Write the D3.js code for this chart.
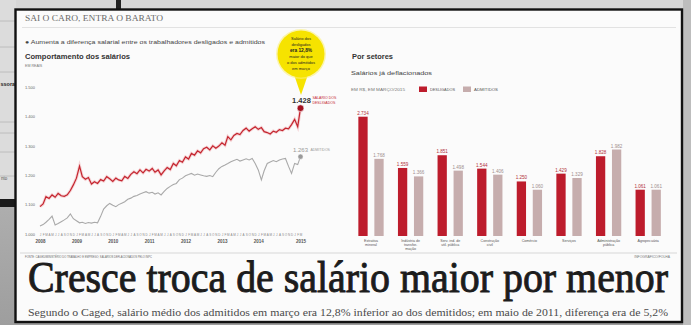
<!DOCTYPE html>
<html><head><meta charset="utf-8">
<script src="https://cdn.jsdelivr.net/npm/d3@7"></script>
<style>html,body{margin:0;padding:0;background:#c8c8c8;}svg{display:block;}</style>
</head><body>
<svg id="c" width="691" height="325"></svg>
<script>
// ---------- DATA ----------
const startMonth = new Date(2008, 0, 1);
const endMonth = new Date(2015, 2, 1);
const desligados = [
 1093,1102,1127,1121,1133,1125,1138,1130,1128,1133,1148,1167,
 1190,1231,1195,1186,1192,1170,1178,1172,1185,1180,1195,1188,
 1179,1190,1184,1181,1196,1189,1203,1212,1205,1218,1208,1220,
 1214,1223,1210,1218,1201,1215,1226,1219,1240,1232,1250,1244,
 1262,1255,1274,1268,1283,1276,1290,1295,1286,1300,1292,1299,
 1310,1302,1331,1320,1335,1342,1338,1352,1360,1350,1358,1365,
 1356,1362,1348,1345,1340,1350,1346,1355,1352,1360,1358,1372,
 1390,1365,1428];
const admitidos = [
 1027,1032,1040,1050,1061,1031,1036,1042,1048,1055,1068,1052,
 1045,1038,1040,1036,1039,1037,1040,1038,1060,1085,1096,1104,
 1098,1093,1100,1105,1110,1118,1122,1128,1131,1136,1140,1144,
 1139,1142,1136,1140,1133,1145,1155,1162,1168,1172,1185,1190,
 1198,1202,1206,1200,1204,1201,1198,1196,1199,1195,1210,1222,
 1230,1235,1240,1246,1250,1254,1248,1252,1256,1252,1257,1240,
 1218,1184,1215,1240,1245,1250,1246,1252,1255,1257,1230,1206,
 1240,1236,1263];
const yTicks = [1000, 1100, 1200, 1300, 1400, 1500];
const yearTicks = ["2008-01","2009-01","2010-01","2011-01","2012-01","2013-01","2014-01","2015-03"];
const monthLetters = ["J","F","M","A","M","J","J","A","S","O","N","D"];

const sectors = ["Extrativa mineral","Indústria de transformação","Serv. ind. de util. pública","Construção civil","Comércio","Serviços","Administração pública","Agropecuária"];
const sectorLines = [["Extrativa","mineral"],["Indústria de","transfor-","mação"],["Serv. ind. de","util. pública"],["Construção","civil"],["Comércio"],["Serviços"],["Administração","pública"],["Agropecuária"]];
const setorDesligados = [2734,1559,1851,1544,1250,1429,1828,1061];
const setorAdmitidos  = [1768,1366,1498,1406,1060,1329,1982,1061];
const seriesNames = ["DESLIGADOS","ADMITIDOS"];

// ---------- SETUP ----------
const svg = d3.select("#c");
const loc = d3.formatLocale({decimal:",", thousands:".", grouping:[3], currency:["R$ ",""]});
const fmt = loc.format(",d");
const SANS = "'Liberation Sans', Arial, sans-serif";
const SERIF = "'Liberation Serif', 'DejaVu Serif', serif";
const RED = "#bd1c2c", GRAY = "#c6adad", LINE_RED = "#c4252f", LINE_GRAY = "#a9a9a9";

// ---------- BACKGROUND (photo surroundings) ----------
const defs = svg.append("defs");
const g1 = defs.append("linearGradient").attr("id","bgl").attr("x1",0).attr("y1",0).attr("x2",0).attr("y2",1);
g1.append("stop").attr("offset",0).attr("stop-color","#c9c9c9");
g1.append("stop").attr("offset",1).attr("stop-color","#9e9e9e");
svg.append("rect").attr("width",691).attr("height",325).attr("fill","url(#bgl)");
svg.append("rect").attr("x",0).attr("y",0).attr("width",691).attr("height",10).attr("fill","#d6d6d6");
svg.append("rect").attr("x",0).attr("y",0).attr("width",16).attr("height",200).attr("fill","#dcdcdc");
[21,47,72,122,133,152,176].forEach(y=>svg.append("line").attr("x1",0).attr("x2",15).attr("y1",y).attr("y2",y).attr("stroke","#b5b5b5").attr("stroke-width",0.8));
svg.append("text").attr("x",0.5).attr("y",86).attr("font-family",SANS).attr("font-weight","bold").attr("font-size",5.5).attr("fill","#222").text("ssora");
svg.append("text").attr("x",1).attr("y",180).attr("font-family",SANS).attr("font-size",4.5).attr("fill","#555").text("nto");
svg.append("rect").attr("x",0).attr("y",199).attr("width",16).attr("height",8).attr("fill","#1a1a1a");
svg.append("rect").attr("x",116).attr("y",0).attr("width",5).attr("height",10).attr("fill","#222");
svg.append("rect").attr("x",683).attr("y",0).attr("width",8).attr("height",325).attr("fill","#bdbdbd");

// page
svg.append("rect").attr("x",15.5).attr("y",9.5).attr("width",666.5).attr("height",312.5)
  .attr("fill","#fbfbfb").attr("stroke","#111").attr("stroke-width",2.4);

// ---------- HEADER TEXTS ----------
svg.append("text").attr("x",25).attr("y",21).attr("font-family",SERIF).attr("font-size",8).attr("fill","#6a6a6a")
  .attr("textLength",138).attr("lengthAdjust","spacingAndGlyphs").text("SAI O CARO, ENTRA O BARATO");
svg.append("line").attr("x1",22).attr("x2",676).attr("y1",27.5).attr("y2",27.5).attr("stroke","#e2e2e2").attr("stroke-width",1);
svg.append("text").attr("x",25).attr("y",43.5).attr("font-family",SANS).attr("font-size",5.5).attr("fill","#444")
  .attr("textLength",240).attr("lengthAdjust","spacingAndGlyphs").text("● Aumenta a diferença salarial entre os trabalhadores desligados e admitidos");
svg.append("text").attr("x",25).attr("y",58.5).attr("font-family",SANS).attr("font-weight","bold").attr("font-size",7).attr("fill","#333")
  .attr("textLength",105).attr("lengthAdjust","spacingAndGlyphs").text("Comportamento dos salários");
svg.append("text").attr("x",25).attr("y",67).attr("font-family",SANS).attr("font-size",3.6).attr("fill","#777").text("EM REAIS");

// ---------- LEFT LINE CHART ----------
const x = d3.scaleTime().domain([startMonth, endMonth]).range([40, 300.5]);
const y = d3.scaleLinear().domain([1000, 1500]).range([234, 87]);
const months = d3.timeMonths(startMonth, d3.timeMonth.offset(endMonth, 1));

svg.append("g").attr("transform","translate(25,0)")
  .call(d3.axisRight(y).tickValues(yTicks).tickSize(0).tickPadding(0).tickFormat(fmt))
  .call(g=>g.select(".domain").remove())
  .call(g=>g.selectAll("text").attr("font-family",SANS).attr("font-size",4).attr("fill","#666"));

svg.append("g").attr("transform","translate(0,233)")
  .call(d3.axisBottom(x).tickValues(months).tickSize(0).tickPadding(1).tickFormat(d=>monthLetters[d.getMonth()]))
  .call(g=>g.select(".domain").remove())
  .call(g=>g.selectAll("text").attr("font-family",SANS).attr("font-size",3).attr("fill","#888"));

const parseYM = d3.timeParse("%Y-%m");
svg.append("g").attr("transform","translate(0,239)")
  .call(d3.axisBottom(x).tickValues(yearTicks.map(parseYM)).tickSize(0).tickPadding(1).tickFormat(d3.timeFormat("%Y")))
  .call(g=>g.select(".domain").remove())
  .call(g=>g.selectAll("text").attr("font-family",SANS).attr("font-weight","bold").attr("font-size",4.5).attr("fill","#555"));

const lineGen = d3.line().x((d,i)=>x(months[i])).y(d=>y(d)).curve(d3.curveLinear);
svg.append("path").datum(admitidos).attr("d",lineGen).attr("fill","none").attr("stroke",LINE_GRAY).attr("stroke-width",1.1);
svg.append("path").datum(desligados).attr("d",lineGen).attr("fill","none").attr("stroke","#f2b9bd").attr("stroke-width",3).attr("opacity",0.6);
svg.append("path").datum(desligados).attr("d",lineGen).attr("fill","none").attr("stroke",LINE_RED).attr("stroke-width",1.2);

const lastI = months.length - 1;
const lastX = x(months[lastI]);
svg.append("circle").attr("cx",lastX).attr("cy",y(desligados[lastI])).attr("r",3.4).attr("fill","#a3111f").attr("stroke","#fff").attr("stroke-width",0.6);
svg.append("circle").attr("cx",lastX).attr("cy",y(admitidos[lastI])).attr("r",2.6).attr("fill","#9a9a9a").attr("stroke","#fff").attr("stroke-width",0.5);

svg.append("text").attr("x",lastX+1).attr("y",y(desligados[lastI])-5).attr("text-anchor","middle")
  .attr("font-family",SANS).attr("font-weight","bold").attr("font-size",7.5).attr("fill","#333").text(fmt(desligados[lastI]));
svg.append("text").attr("x",lastX+12).attr("y",y(desligados[lastI])-9).attr("font-family",SANS).attr("font-size",3.5).attr("fill",LINE_RED).text("SALÁRIO DOS");
svg.append("text").attr("x",lastX+12).attr("y",y(desligados[lastI])-4.5).attr("font-family",SANS).attr("font-size",3.5).attr("fill",LINE_RED).text("DESLIGADOS");
svg.append("text").attr("x",lastX).attr("y",y(admitidos[lastI])-5).attr("text-anchor","middle")
  .attr("font-family",SANS).attr("font-size",6).attr("fill","#9a9a9a").text(fmt(admitidos[lastI]));
svg.append("text").attr("x",lastX+10).attr("y",y(admitidos[lastI])-5.5).attr("font-family",SANS).attr("font-size",3.5).attr("fill","#9a9a9a").text("ADMITIDOS");

// bubble
const bx = lastX + 0.5, by = 54, br = 23.5;
svg.append("path").attr("d",`M${bx-7},${by+br-3} L${bx},${95} L${bx+7},${by+br-3} Z`).attr("fill","#f6e300");
svg.append("circle").attr("cx",bx).attr("cy",by).attr("r",br+1.5).attr("fill","#fbf07a").attr("opacity",0.6);
svg.append("circle").attr("cx",bx).attr("cy",by).attr("r",br).attr("fill","#f6e300");
const bubbleLines = [["Salário dos",false],["desligados",false],["era 12,8%",true],["maior do que",false],["o dos admitidos",false],["em março",false]];
bubbleLines.forEach((l,i)=>svg.append("text").attr("x",bx).attr("y",by-14+i*6).attr("text-anchor","middle")
  .attr("font-family",SANS).attr("font-weight",l[1]?"bold":"normal").attr("font-size",l[1]?4.8:4).attr("fill","#222").text(l[0]));

// ---------- RIGHT BAR CHART ----------
svg.append("text").attr("x",352).attr("y",59).attr("font-family",SANS).attr("font-weight","bold").attr("font-size",7).attr("fill","#333")
  .attr("textLength",41).attr("lengthAdjust","spacingAndGlyphs").text("Por setores");
svg.append("text").attr("x",351).attr("y",74.5).attr("font-family",SANS).attr("font-size",5.5).attr("fill","#444")
  .attr("textLength",81).attr("lengthAdjust","spacingAndGlyphs").text("Salários já deflacionados");
svg.append("text").attr("x",351).attr("y",91).attr("font-family",SANS).attr("font-size",3.8).attr("fill","#777")
  .attr("textLength",54).attr("lengthAdjust","spacingAndGlyphs").text("EM R$, EM MARÇO/2015");
const legend = [[419,RED,seriesNames[0],25],[463,GRAY,seriesNames[1],24]];
legend.forEach(l=>{
  svg.append("rect").attr("x",l[0]).attr("y",86.5).attr("width",8).attr("height",5.5).attr("fill",l[1]);
  svg.append("text").attr("x",l[0]+11).attr("y",91).attr("font-family",SANS).attr("font-size",3.8).attr("fill","#555")
    .attr("textLength",l[3]).attr("lengthAdjust","spacingAndGlyphs").text(l[2]);
});

const xb = d3.scaleBand().domain(sectors).range([351.2, 668]).paddingInner(0).paddingOuter(0);
const xs = d3.scaleBand().domain(seriesNames).range([7.15, 32.45]).paddingInner(0.42).paddingOuter(0);
const yb = d3.scaleLinear().domain([0, 2734]).range([236, 116.7]);

const barData = sectors.map((s,i)=>({s, vals:[{k:seriesNames[0],v:setorDesligados[i]},{k:seriesNames[1],v:setorAdmitidos[i]}]}));
const grp = svg.append("g").selectAll("g").data(barData).join("g").attr("transform",d=>`translate(${xb(d.s)},0)`);
grp.selectAll("rect").data(d=>d.vals).join("rect")
  .attr("x",d=>xs(d.k)).attr("width",xs.bandwidth())
  .attr("y",d=>yb(d.v)).attr("height",d=>yb(0)-yb(d.v))
  .attr("fill",d=>d.k===seriesNames[0]?RED:GRAY);
grp.selectAll("text.v").data(d=>d.vals).join("text").attr("class","v")
  .attr("x",d=>xs(d.k)+xs.bandwidth()/2).attr("y",d=>yb(d.v)-2).attr("text-anchor","middle")
  .attr("font-family",SANS).attr("font-size",4.6).attr("fill",d=>d.k===seriesNames[0]?"#b2303a":"#a08d8d").text(d=>fmt(d.v));
grp.each(function(d,i){
  const g = d3.select(this);
  sectorLines[i].forEach((t,j)=>g.append("text").attr("x",xb.bandwidth()/2).attr("y",241.5+j*4.4).attr("text-anchor","middle")
    .attr("font-family",SANS).attr("font-size",3.6).attr("fill","#555").text(t));
});

// ---------- FOOTER ----------
svg.append("line").attr("x1",20).attr("x2",677).attr("y1",253).attr("y2",253).attr("stroke","#cfcfcf").attr("stroke-width",0.8);
svg.append("text").attr("x",25).attr("y",257.5).attr("font-family",SANS).attr("font-size",3.4).attr("fill","#666")
  .attr("textLength",127).attr("lengthAdjust","spacingAndGlyphs").text("FONTE: CAGED/MINISTÉRIO DO TRABALHO E EMPREGO; SALÁRIOS DEFLACIONADOS PELO INPC");
svg.append("text").attr("x",670).attr("y",257.5).attr("text-anchor","end").attr("font-family",SANS).attr("font-size",3.4).attr("fill","#777")
  .text("INFOGRÁFICO/FOLHA");

svg.append("g").attr("transform","translate(28,292) scale(1,1.2)")
  .append("text").attr("x",0).attr("y",0).attr("font-family",SERIF).attr("font-weight","normal").attr("font-size",37.5).attr("fill","#1c1c1c")
  .attr("stroke","#1c1c1c").attr("stroke-width",0.8)
  .attr("textLength",640).attr("lengthAdjust","spacingAndGlyphs").text("Cresce troca de salário maior por menor");
svg.append("text").attr("x",28).attr("y",316).attr("font-family",SERIF).attr("font-size",9.5).attr("fill","#4a4a4a")
  .attr("textLength",640).attr("lengthAdjust","spacingAndGlyphs")
  .text("Segundo o Caged, salário médio dos admitidos em março era 12,8% inferior ao dos demitidos; em maio de 2011, diferença era de 5,2%");
</script>
</body></html>
